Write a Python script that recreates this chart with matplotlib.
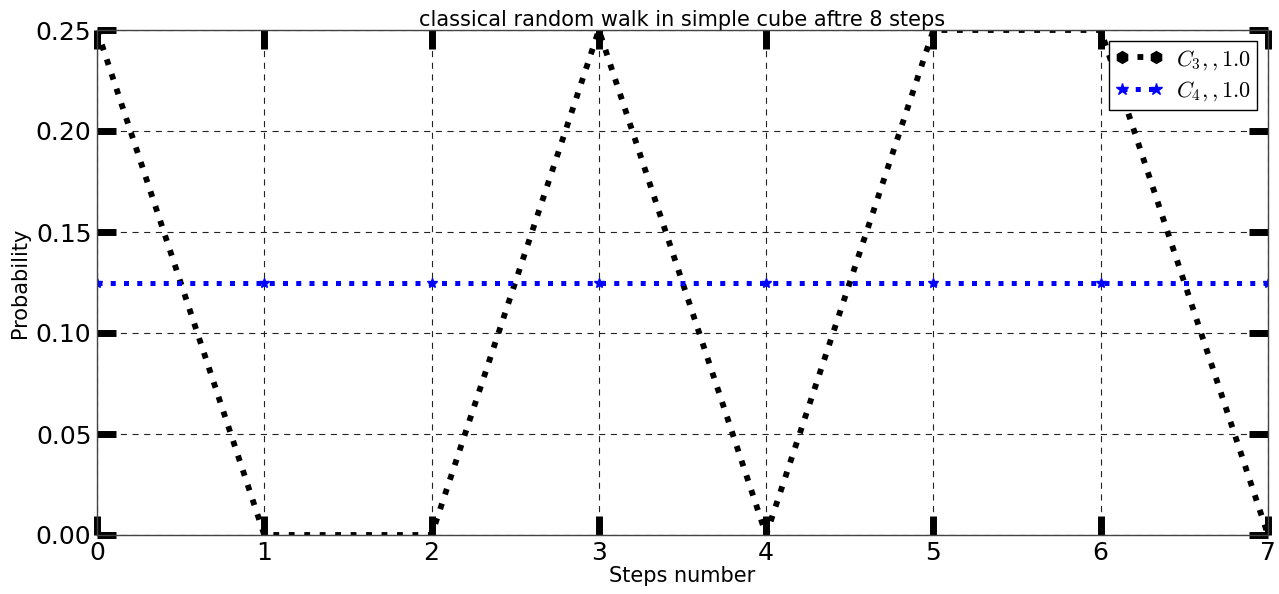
import matplotlib
matplotlib.use("Agg")
import matplotlib.pyplot as plt

plt.rcParams['mathtext.fontset'] = 'cm'

# data
steps = [0, 1, 2, 3, 4, 5, 6, 7]
c3_prob = [0.25, 0.0, 0.0, 0.25, 0.0, 0.25, 0.25, 0.0]
c4_prob = [0.125, 0.125, 0.125, 0.125, 0.125, 0.125, 0.125, 0.125]
c3_label = r'$C_{3},,1.0$'
c4_label = r'$C_{4},,1.0$'
yticks = [0.00, 0.05, 0.10, 0.15, 0.20, 0.25]

fig = plt.figure(figsize=(12.79, 5.94), dpi=100)
ax = fig.add_axes([97 / 1279, 1 - 535 / 594, (1268 - 97) / 1279, (535 - 30) / 594])

ax.plot(steps, c3_prob, color='black', linestyle=':', linewidth=4.2,
        marker='h', markersize=4, label=c3_label)
ax.plot(steps, c4_prob, color='blue', linestyle=':', linewidth=3.6,
        marker='*', markersize=7, label=c4_label)

ax.set_xlim(0, 7)
ax.set_ylim(0, 0.25)
ax.set_yticks(yticks)
ax.set_xticks(steps)
ax.grid(True, color='#222222', linestyle=(0, (5.5, 5)), linewidth=0.8)
ax.tick_params(direction='in', length=14, width=5, labelsize=18,
               top=True, right=True, pad=4)
for s in ax.spines.values():
    s.set_color('#444444')
    s.set_linewidth(1)

ax.set_title("classical random walk in simple cube aftre 8 steps", fontsize=15, pad=3)
ax.set_xlabel("Steps number", fontsize=15, labelpad=1)
ax.set_ylabel("Probability", fontsize=15, labelpad=4)

leg = ax.legend(loc='upper right', fontsize=16, numpoints=2,
                fancybox=False, edgecolor='black', framealpha=1,
                handlelength=2.1, handletextpad=0.6, borderaxespad=0.5,
                borderpad=0.3, labelspacing=0.35)
leg.get_frame().set_linewidth(1)
handles = leg.legend_handles
handles[0].set_markersize(8.5)
handles[1].set_markersize(9)

fig.savefig("out.png", dpi=100)
